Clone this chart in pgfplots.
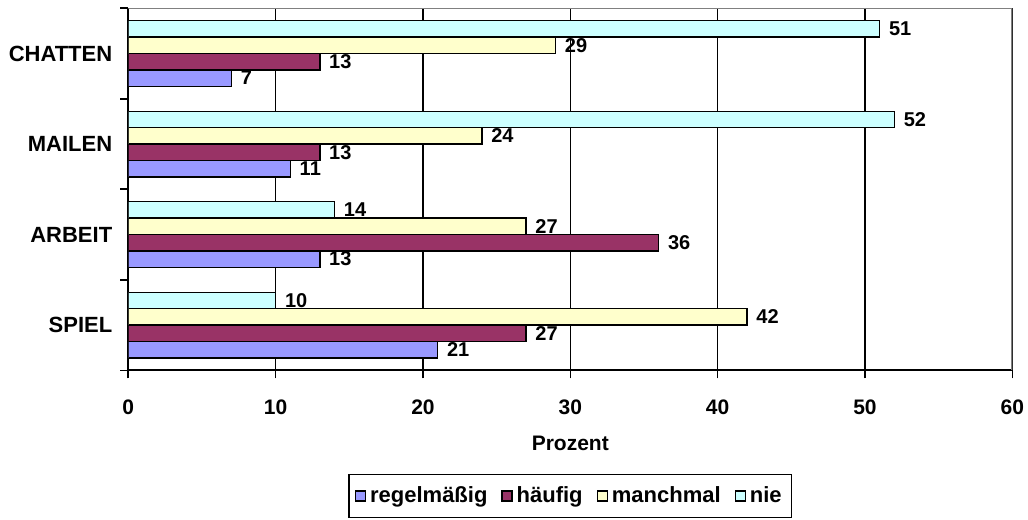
\documentclass[border=0pt]{standalone}
\usepackage{pgfplots}
\pgfplotsset{compat=1.18}
\usepackage{fontspec}
\setmainfont{Liberation Sans}

\definecolor{regel}{HTML}{9999FF}
\definecolor{haeufig}{HTML}{993366}
\definecolor{manch}{HTML}{FFFFCC}
\definecolor{nie}{HTML}{CCFFFF}

\begin{document}
\begin{tikzpicture}[font=\bfseries\fontsize{10.5}{12}\selectfont]
	\begin{axis}[
		name=ax,
		scale only axis,
		width=442pt, height=181pt,
		/pgf/number format/assume math mode=true,
		xbar=0pt, bar width=0.181,
		xmin=0, xmax=60, ymin=-0.5, ymax=3.5,
		axis lines*=left,
		axis line style={black, line width=1pt},
		xtick={0,10,...,60},
		xmajorgrids,
		grid style={black, line width=0.75pt},
		ytick={-0.5,0.5,1.5,2.5,3.5},
		yticklabels={},
		extra y ticks={0,1,2,3},
		extra y tick labels={SPIEL,ARBEIT,MAILEN,CHATTEN},
		extra y tick style={major tick length=0pt, yticklabel style={xshift=-4.5pt, font=\bfseries\fontsize{11}{13}\selectfont}},
		tick align=outside,
		major tick length=4pt,
		tick style={black, line width=0.8pt},
		xticklabel style={yshift=-7pt},
		xlabel={Prozent},
		xlabel style={at={(axis description cs:0.5,-0.2017)}, anchor=center},
		every axis plot/.append style={draw=black, line width=0.7pt},
		nodes near coords,
		nodes near coords style={font=\bfseries\fontsize{10}{12}\selectfont, black, xshift=1pt},
		legend columns=-1,
		legend style={at={(0.5,-0.409)}, anchor=south, draw=black, line width=0.8pt,
			font=\bfseries\fontsize{11}{13}\selectfont, inner xsep=3pt, inner ysep=4pt,
			/tikz/every even column/.append style={column sep=5pt}},
		legend image code/.code={\draw[#1, line width=0.6pt] (0pt,-2.5pt) rectangle (5pt,2.5pt);},
	]
	\addplot[fill=regel] coordinates {(21,0) (13,1) (11,2) (7,3)};
	\addplot[fill=haeufig] coordinates {(27,0) (36,1) (13,2) (13,3)};
	\addplot[fill=manch] coordinates {(42,0) (27,1) (24,2) (29,3)};
	\addplot[fill=nie] coordinates {(10,0) (14,1) (52,2) (51,3)};
	\legend{regelmäßig, häufig, manchmal, nie}
	\draw[gray, line width=1pt] (rel axis cs:0,1) -- (rel axis cs:1,1) -- (rel axis cs:1,0);
	\end{axis}
	\pgfresetboundingbox
	\path ([shift={(-64.15pt,-74.5pt)}]ax.south west) rectangle ([shift={(7.85pt,4.15pt)}]ax.north east);
\end{tikzpicture}
\end{document}
